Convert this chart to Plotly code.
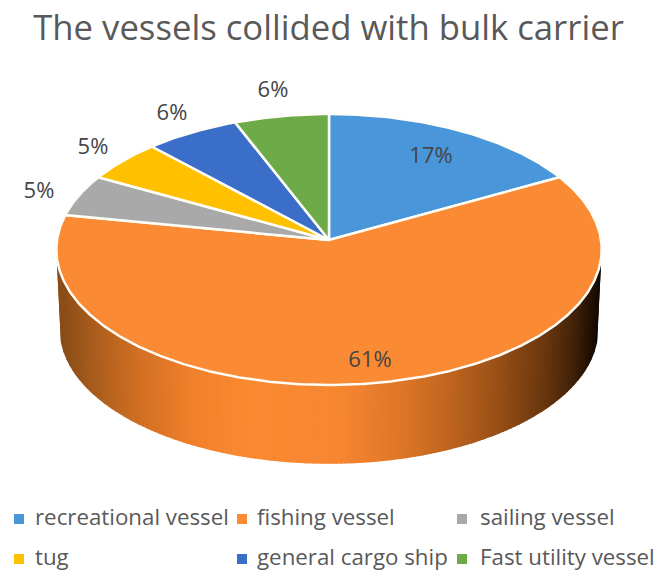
import numpy as np
import plotly.graph_objects as go

categories = ["recreational vessel", "fishing vessel", "sailing vessel",
              "tug", "general cargo ship", "Fast utility vessel"]
shares = [17, 61, 5, 5, 6, 6]
slice_colors = ["#4a96da", "#fa8a33", "#a9a9a9", "#ffc000", "#3a6ec8", "#6cab47"]

TITLE = "The vessels collided with bulk carrier"
TEXT_COLOR = "#595959"
LABEL_COLOR = "#454545"
FONT = "Open Sans"

# Perspective pie: top face and base share the same tilt
CX = 329
TILT = 0.0701
TOP = dict(a=272, b=134.8, cy=240)
BASE = dict(a=268, b=133, cy=320)

# Side wall shading, by horizontal position across the pie
SHADE_X = [56, 100, 140, 190, 250, 340, 400, 450, 500, 545, 575, 590, 602]
SHADE_RGB = [
    (132, 74, 22), (176, 96, 30), (210, 112, 36), (240, 128, 42), (250, 138, 50),
    (246, 134, 48), (222, 118, 40), (190, 100, 32), (150, 78, 22), (104, 54, 14),
    (62, 32, 8), (32, 16, 4), (12, 6, 2),
]

LABEL_X = [431, 370, 39, 93, 172, 273]
LABEL_Y = [157, 361, 192, 148, 114, 91]

# Legend grid: keys and names sit in three columns and two rows
LEGEND_KEY_X = [19, 242, 462, 19, 242, 462]
LEGEND_TEXT_X = [35, 257, 480, 35, 257, 480]
LEGEND_Y = [519, 519, 519, 559, 559, 559]


def project(theta_deg, ring):
    """Clockwise angle from twelve o'clock to page coordinates on a ring."""
    t = np.radians(theta_deg)
    u, v = np.sin(t), -np.cos(t)
    d = 1 - TILT * v
    return CX + ring["a"] * u / d, ring["cy"] + ring["b"] * v / d


def shade(x):
    r, g, b = (np.interp(x, SHADE_X, [c[i] for c in SHADE_RGB]) for i in range(3))
    return f"rgb({r:.0f},{g:.0f},{b:.0f})"


fig = go.Figure()

# Side wall: thin vertical strips running around the front of the pie
u_steps = np.linspace(-1, 1, 141)
wall_angles = 180 - np.degrees(np.arcsin(u_steps))
wall_angles = np.concatenate(([wall_angles[0] + 8], wall_angles, [wall_angles[-1] - 8]))
wall_angles = np.sort(wall_angles)
for t0, t1 in zip(wall_angles[:-1], wall_angles[1:]):
    ts = np.array([t0, t1])
    xt, yt = project(ts, TOP)
    xb, yb = project(ts[::-1], BASE)
    color = shade((xt.mean() + xb.mean()) / 2)
    fig.add_trace(go.Scatter(
        x=np.concatenate((xt, xb, xt[:1])), y=np.concatenate((yt, yb, yt[:1])),
        mode="lines", fill="toself", fillcolor=color,
        line=dict(color=color, width=1.5), showlegend=False, hoverinfo="skip",
    ))

# Top face slices, clockwise from twelve o'clock
total = sum(shares)
start = 0.0
for name, share, color in zip(categories, shares, slice_colors):
    end = start + share / total * 360
    x_arc, y_arc = project(np.linspace(start, end, max(int(end - start) * 2, 8)), TOP)
    fig.add_trace(go.Scatter(
        x=np.concatenate(([CX], x_arc, [CX])),
        y=np.concatenate(([TOP["cy"]], y_arc, [TOP["cy"]])),
        mode="lines", fill="toself", fillcolor=color,
        line=dict(color="#fffdf8", width=2.5), showlegend=False, name=name,
        hovertemplate=f"{name}: {share}%<extra></extra>",
    ))
    start = end

# Percentage labels
fig.add_trace(go.Scatter(
    x=LABEL_X, y=LABEL_Y, mode="text", text=[f"{s}%" for s in shares],
    textposition="middle center",
    textfont=dict(family=FONT, size=22, color=LABEL_COLOR),
    showlegend=False, hoverinfo="skip",
))

# Legend keys and names
fig.add_trace(go.Scatter(
    x=LEGEND_KEY_X, y=LEGEND_Y, mode="markers",
    marker=dict(symbol="square", size=10, color=slice_colors, line=dict(width=0)),
    showlegend=False, hoverinfo="skip",
))
fig.add_trace(go.Scatter(
    x=LEGEND_TEXT_X, y=LEGEND_Y, mode="text", text=categories,
    textposition="middle right",
    textfont=dict(family=FONT, size=22.3, color=TEXT_COLOR),
    showlegend=False, hoverinfo="skip",
))

fig.update_layout(
    width=657, height=571, autosize=False, showlegend=False,
    margin=dict(l=0, r=0, t=0, b=0),
    paper_bgcolor="white", plot_bgcolor="white",
    title=dict(text=TITLE, x=0.5, xanchor="center", y=1 - 28 / 571, yanchor="middle",
               font=dict(family=FONT, size=34.7, color=TEXT_COLOR)),
    xaxis=dict(range=[0, 657], visible=False, fixedrange=True),
    yaxis=dict(range=[571, 0], visible=False, fixedrange=True),
)

fig.write_html("out.html", config=dict(displayModeBar=False))
